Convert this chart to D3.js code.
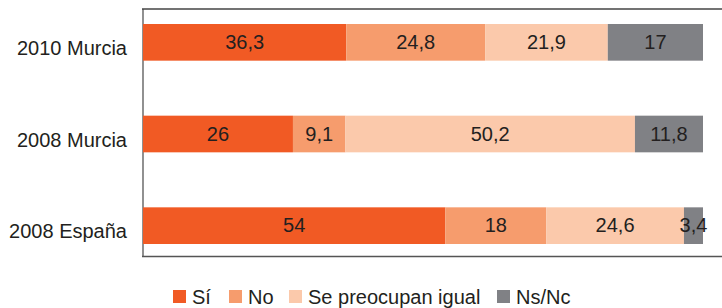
<!DOCTYPE html>
<html>
<head>
<meta charset="utf-8">
<script src="https://cdn.jsdelivr.net/npm/d3@7"></script>
<style>
  body { margin: 0; background: #fff; }
  text { font-family: "Liberation Sans", Arial, sans-serif; fill: #231f20; }
</style>
</head>
<body>
<div id="chart-container"></div>
<script>
// data
const categories = ["2010 Murcia", "2008 Murcia", "2008 España"];
const seriesNames = ["Sí", "No", "Se preocupan igual", "Ns/Nc"];
const valSi = [36.3, 26, 54];
const valNo = [24.8, 9.1, 18];
const valIgual = [21.9, 50.2, 24.6];
const valNsNc = [17, 11.8, 3.4];
const seriesColors = ["#f15a24", "#f69c6d", "#fbc9ab", "#808185"];

const width = 722, height = 308;

const svg = d3.select("#chart-container")
    .append("svg")
    .attr("width", width)
    .attr("height", height);

// build rows, normalised to 100%
const rows = categories.map((c, i) => {
    const vals = [valSi[i], valNo[i], valIgual[i], valNsNc[i]];
    const total = d3.sum(vals);
    const row = { cat: c };
    seriesNames.forEach((s, j) => { row[s] = vals[j] / total * 100; row["raw_" + s] = vals[j]; });
    return row;
});

const stack = d3.stack().keys(seriesNames);
const stacked = stack(rows);

const xScale = d3.scaleLinear().domain([0, 100]).range([143, 703]);
const yScale = d3.scaleBand()
    .domain(categories)
    .range([24, 244])
    .paddingInner(0.6)
    .paddingOuter(0);

const colorScale = d3.scaleOrdinal().domain(seriesNames).range(seriesColors);

// frame
svg.append("line")
    .attr("x1", 143).attr("x2", 143).attr("y1", 9).attr("y2", 257)
    .attr("stroke", "#555").attr("stroke-width", 1.3);
svg.append("line")
    .attr("x1", 142).attr("x2", 722).attr("y1", 9).attr("y2", 9)
    .attr("stroke", "#444").attr("stroke-width", 1.3);
svg.append("line")
    .attr("x1", 142).attr("x2", 722).attr("y1", 256.5).attr("y2", 256.5)
    .attr("stroke", "#555").attr("stroke-width", 1.3);

// bars
const groups = svg.selectAll(".series")
    .data(stacked)
    .enter()
    .append("g")
    .attr("class", "series")
    .attr("fill", d => colorScale(d.key));

groups.selectAll("rect")
    .data(d => d)
    .enter()
    .append("rect")
    .attr("x", d => xScale(d[0]))
    .attr("width", d => xScale(d[1]) - xScale(d[0]))
    .attr("y", d => yScale(d.data.cat))
    .attr("height", yScale.bandwidth());

// value labels
stacked.forEach(s => {
    svg.selectAll(null)
        .data(s)
        .enter()
        .append("text")
        .attr("x", d => (xScale(d[0]) + xScale(d[1])) / 2)
        .attr("y", d => yScale(d.data.cat) + yScale.bandwidth() / 2 + 6.5)
        .attr("text-anchor", "middle")
        .style("font-size", "20px")
        .text(d => String(d.data["raw_" + s.key]).replace(".", ","));
});

// category labels
svg.selectAll(".cat")
    .data(categories)
    .enter()
    .append("text")
    .attr("class", "cat")
    .attr("x", 127)
    .attr("y", d => yScale(d) + yScale.bandwidth() / 2 + 12.5)
    .attr("text-anchor", "end")
    .style("font-size", "20px")
    .text(d => d);

// legend
const legendX = [173, 229, 289, 497];
const legend = svg.selectAll(".legend")
    .data(seriesNames)
    .enter()
    .append("g")
    .attr("class", "legend")
    .attr("transform", (d, i) => `translate(${legendX[i]},290)`);

legend.append("rect")
    .attr("width", 13)
    .attr("height", 13)
    .attr("fill", d => colorScale(d));

legend.append("text")
    .attr("x", 19)
    .attr("y", 14)
    .style("font-size", "20px")
    .text(d => d);
</script>
</body>
</html>
